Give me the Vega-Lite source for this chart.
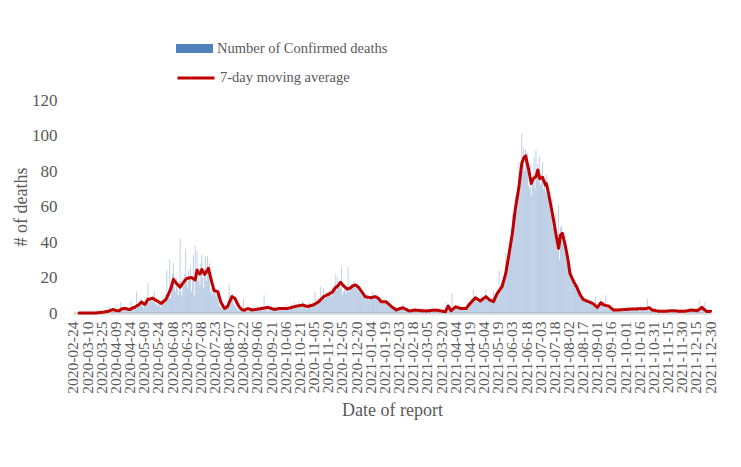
{
"$schema":"https://vega.github.io/schema/vega-lite/v6.json",
"width":638,"height":213,
"autosize":{"type":"none"},
"padding":{"left":73,"top":100,"right":30,"bottom":154},
"background":"white",
"config":{"view":{"stroke":null},"font":"Liberation Serif","axisY":{"labelOverlap":false,"tickCount":7},"axis":{"labelOverlap":false}},
"data":{"values":[
{"d":"2020-02-24","v":0},{"d":"2020-02-25","v":0},{"d":"2020-02-26","v":0},{"d":"2020-02-27","v":0},{"d":"2020-02-28","v":0},{"d":"2020-02-29","v":0},
{"d":"2020-03-01","v":0,"m":0},{"d":"2020-03-02","v":0,"m":0},{"d":"2020-03-03","v":0,"m":0},{"d":"2020-03-04","v":0,"m":0},{"d":"2020-03-05","v":0,"m":0},{"d":"2020-03-06","v":0,"m":0},{"d":"2020-03-07","v":0,"m":0},{"d":"2020-03-08","v":0,"m":0},{"d":"2020-03-09","v":0,"m":0},{"d":"2020-03-10","v":0,"m":0},{"d":"2020-03-11","v":0,"m":0},{"d":"2020-03-12","v":0,"m":0},{"d":"2020-03-13","v":0,"m":0},{"d":"2020-03-14","v":0,"m":0},{"d":"2020-03-15","v":0,"m":0},{"d":"2020-03-16","v":0,"m":0},{"d":"2020-03-17","v":0,"m":0},{"d":"2020-03-18","v":0,"m":0},{"d":"2020-03-19","v":0,"m":0},{"d":"2020-03-20","v":1,"m":0.1},{"d":"2020-03-21","v":0,"m":0.1},{"d":"2020-03-22","v":0,"m":0.1},{"d":"2020-03-23","v":1,"m":0.3},{"d":"2020-03-24","v":0,"m":0.3},{"d":"2020-03-25","v":1,"m":0.4},{"d":"2020-03-26","v":0,"m":0.4},{"d":"2020-03-27","v":0,"m":0.5},{"d":"2020-03-28","v":1,"m":0.6},{"d":"2020-03-29","v":2,"m":0.7},{"d":"2020-03-30","v":0,"m":0.8},{"d":"2020-03-31","v":1,"m":0.9},
{"d":"2020-04-01","v":1,"m":1.0},{"d":"2020-04-02","v":4,"m":1.2},{"d":"2020-04-03","v":0,"m":1.4},{"d":"2020-04-04","v":2,"m":1.6},{"d":"2020-04-05","v":3,"m":1.8},{"d":"2020-04-06","v":1,"m":2.0},{"d":"2020-04-07","v":2,"m":1.8},{"d":"2020-04-08","v":1,"m":1.6},{"d":"2020-04-09","v":2,"m":1.4},{"d":"2020-04-10","v":0,"m":1.3},{"d":"2020-04-11","v":1,"m":1.2},{"d":"2020-04-12","v":2,"m":1.2},{"d":"2020-04-13","v":1,"m":1.5},{"d":"2020-04-14","v":6,"m":1.9},{"d":"2020-04-15","v":2,"m":2.2},{"d":"2020-04-16","v":3,"m":2.4},{"d":"2020-04-17","v":2,"m":2.5},{"d":"2020-04-18","v":3,"m":2.6},{"d":"2020-04-19","v":2,"m":2.6},{"d":"2020-04-20","v":1,"m":2.4},{"d":"2020-04-21","v":3,"m":2.2},{"d":"2020-04-22","v":2,"m":2.1},{"d":"2020-04-23","v":1,"m":2.0},{"d":"2020-04-24","v":2,"m":2.0},{"d":"2020-04-25","v":7,"m":2.3},{"d":"2020-04-26","v":2,"m":2.6},{"d":"2020-04-27","v":3,"m":2.9},{"d":"2020-04-28","v":4,"m":3.1},{"d":"2020-04-29","v":3,"m":3.2},{"d":"2020-04-30","v":4,"m":3.6},
{"d":"2020-05-01","v":12,"m":4.0},{"d":"2020-05-02","v":3,"m":4.3},{"d":"2020-05-03","v":5,"m":4.5},{"d":"2020-05-04","v":6,"m":5.1},{"d":"2020-05-05","v":4,"m":5.7},{"d":"2020-05-06","v":8,"m":6.2},{"d":"2020-05-07","v":5,"m":5.8},{"d":"2020-05-08","v":3,"m":5.4},{"d":"2020-05-09","v":6,"m":5.0},{"d":"2020-05-10","v":4,"m":5.0},{"d":"2020-05-11","v":7,"m":5.9},{"d":"2020-05-12","v":9,"m":6.9},{"d":"2020-05-13","v":17,"m":7.7},{"d":"2020-05-14","v":6,"m":7.8},{"d":"2020-05-15","v":8,"m":7.9},{"d":"2020-05-16","v":7,"m":8.1},{"d":"2020-05-17","v":9,"m":8.2},{"d":"2020-05-18","v":10,"m":8.3},{"d":"2020-05-19","v":6,"m":8.0},{"d":"2020-05-20","v":12,"m":7.6},{"d":"2020-05-21","v":5,"m":7.2},{"d":"2020-05-22","v":6,"m":7.0},{"d":"2020-05-23","v":4,"m":6.8},{"d":"2020-05-24","v":5,"m":6.4},{"d":"2020-05-25","v":7,"m":6.0},{"d":"2020-05-26","v":3,"m":5.7},{"d":"2020-05-27","v":6,"m":5.4},{"d":"2020-05-28","v":5,"m":5.8},{"d":"2020-05-29","v":9,"m":6.3},{"d":"2020-05-30","v":6,"m":6.8},{"d":"2020-05-31","v":8,"m":7.2},
{"d":"2020-06-01","v":10,"m":7.7},{"d":"2020-06-02","v":24,"m":8.8},{"d":"2020-06-03","v":10,"m":9.9},{"d":"2020-06-04","v":14,"m":11.0},{"d":"2020-06-05","v":30,"m":12.2},{"d":"2020-06-06","v":8,"m":13.3},{"d":"2020-06-07","v":18,"m":15.2},{"d":"2020-06-08","v":22,"m":17.1},{"d":"2020-06-09","v":28,"m":19.0},{"d":"2020-06-10","v":15,"m":18.2},{"d":"2020-06-11","v":12,"m":17.5},{"d":"2020-06-12","v":20,"m":16.7},{"d":"2020-06-13","v":14,"m":16.2},{"d":"2020-06-14","v":10,"m":15.6},{"d":"2020-06-15","v":18,"m":15.0},{"d":"2020-06-16","v":42,"m":14.5},{"d":"2020-06-17","v":12,"m":15.3},{"d":"2020-06-18","v":9,"m":16.1},{"d":"2020-06-19","v":20,"m":16.9},{"d":"2020-06-20","v":16,"m":17.5},{"d":"2020-06-21","v":22,"m":18.2},{"d":"2020-06-22","v":36,"m":18.9},{"d":"2020-06-23","v":18,"m":19.5},{"d":"2020-06-24","v":14,"m":19.6},{"d":"2020-06-25","v":24,"m":19.7},{"d":"2020-06-26","v":21,"m":19.8},{"d":"2020-06-27","v":26,"m":19.9},{"d":"2020-06-28","v":12,"m":20.0},{"d":"2020-06-29","v":20,"m":19.7},{"d":"2020-06-30","v":33,"m":19.3},
{"d":"2020-07-01","v":10,"m":19.0},{"d":"2020-07-02","v":38,"m":18.6},{"d":"2020-07-03","v":22,"m":21.4},{"d":"2020-07-04","v":35,"m":24.2},{"d":"2020-07-05","v":18,"m":23.1},{"d":"2020-07-06","v":25,"m":22.6},{"d":"2020-07-07","v":16,"m":22.0},{"d":"2020-07-08","v":28,"m":23.2},{"d":"2020-07-09","v":33,"m":24.5},{"d":"2020-07-10","v":20,"m":23.6},{"d":"2020-07-11","v":14,"m":22.6},{"d":"2020-07-12","v":25,"m":21.7},{"d":"2020-07-13","v":32,"m":22.5},{"d":"2020-07-14","v":18,"m":23.3},{"d":"2020-07-15","v":32,"m":24.2},{"d":"2020-07-16","v":24,"m":25.2},{"d":"2020-07-17","v":28,"m":23.0},{"d":"2020-07-18","v":12,"m":20.8},{"d":"2020-07-19","v":14,"m":18.6},{"d":"2020-07-20","v":10,"m":16.6},{"d":"2020-07-21","v":13,"m":14.6},{"d":"2020-07-22","v":12,"m":12.6},{"d":"2020-07-23","v":14,"m":12.5},{"d":"2020-07-24","v":9,"m":12.3},{"d":"2020-07-25","v":12,"m":12.2},{"d":"2020-07-26","v":11,"m":12.0},{"d":"2020-07-27","v":6,"m":10.1},{"d":"2020-07-28","v":4,"m":8.3},{"d":"2020-07-29","v":3,"m":6.4},{"d":"2020-07-30","v":5,"m":5.4},{"d":"2020-07-31","v":2,"m":4.5},
{"d":"2020-08-01","v":3,"m":3.5},{"d":"2020-08-02","v":2,"m":2.6},{"d":"2020-08-03","v":4,"m":2.9},{"d":"2020-08-04","v":3,"m":3.2},{"d":"2020-08-05","v":5,"m":3.5},{"d":"2020-08-06","v":8,"m":4.6},{"d":"2020-08-07","v":16,"m":5.8},{"d":"2020-08-08","v":10,"m":6.9},{"d":"2020-08-09","v":9,"m":8.1},{"d":"2020-08-10","v":7,"m":9.2},{"d":"2020-08-11","v":11,"m":8.9},{"d":"2020-08-12","v":5,"m":8.6},{"d":"2020-08-13","v":4,"m":8.3},{"d":"2020-08-14","v":6,"m":7.2},{"d":"2020-08-15","v":2,"m":6.1},{"d":"2020-08-16","v":3,"m":5.1},{"d":"2020-08-17","v":1,"m":4.0},{"d":"2020-08-18","v":2,"m":3.3},{"d":"2020-08-19","v":1,"m":2.7},{"d":"2020-08-20","v":2,"m":2.0},{"d":"2020-08-21","v":1,"m":1.8},{"d":"2020-08-22","v":8,"m":1.7},{"d":"2020-08-23","v":2,"m":1.5},{"d":"2020-08-24","v":3,"m":1.8},{"d":"2020-08-25","v":1,"m":2.1},{"d":"2020-08-26","v":2,"m":2.3},{"d":"2020-08-27","v":1,"m":2.5},{"d":"2020-08-28","v":3,"m":2.3},{"d":"2020-08-29","v":2,"m":2.1},{"d":"2020-08-30","v":1,"m":1.9},{"d":"2020-08-31","v":3,"m":1.7},
{"d":"2020-09-01","v":2,"m":1.8},{"d":"2020-09-02","v":2,"m":1.9},{"d":"2020-09-03","v":3,"m":1.9},{"d":"2020-09-04","v":1,"m":2.0},{"d":"2020-09-05","v":2,"m":2.1},{"d":"2020-09-06","v":4,"m":2.1},{"d":"2020-09-07","v":1,"m":2.2},{"d":"2020-09-08","v":3,"m":2.3},{"d":"2020-09-09","v":2,"m":2.4},{"d":"2020-09-10","v":4,"m":2.5},{"d":"2020-09-11","v":3,"m":2.6},{"d":"2020-09-12","v":2,"m":2.7},{"d":"2020-09-13","v":10,"m":2.8},{"d":"2020-09-14","v":3,"m":2.9},{"d":"2020-09-15","v":2,"m":3.0},{"d":"2020-09-16","v":4,"m":3.1},{"d":"2020-09-17","v":1,"m":3.2},{"d":"2020-09-18","v":3,"m":3.0},{"d":"2020-09-19","v":2,"m":2.8},{"d":"2020-09-20","v":1,"m":2.7},{"d":"2020-09-21","v":3,"m":2.5},{"d":"2020-09-22","v":2,"m":2.3},{"d":"2020-09-23","v":1,"m":2.2},{"d":"2020-09-24","v":2,"m":2.0},{"d":"2020-09-25","v":3,"m":2.1},{"d":"2020-09-26","v":2,"m":2.2},{"d":"2020-09-27","v":1,"m":2.3},{"d":"2020-09-28","v":4,"m":2.4},{"d":"2020-09-29","v":2,"m":2.5},{"d":"2020-09-30","v":3,"m":2.5},
{"d":"2020-10-01","v":2,"m":2.6},{"d":"2020-10-02","v":3,"m":2.6},{"d":"2020-10-03","v":2,"m":2.6},{"d":"2020-10-04","v":4,"m":2.6},{"d":"2020-10-05","v":3,"m":2.6},{"d":"2020-10-06","v":2,"m":2.6},{"d":"2020-10-07","v":5,"m":2.6},{"d":"2020-10-08","v":3,"m":2.6},{"d":"2020-10-09","v":2,"m":2.7},{"d":"2020-10-10","v":4,"m":2.9},{"d":"2020-10-11","v":3,"m":3.0},{"d":"2020-10-12","v":5,"m":3.1},{"d":"2020-10-13","v":3,"m":3.3},{"d":"2020-10-14","v":4,"m":3.4},{"d":"2020-10-15","v":6,"m":3.6},{"d":"2020-10-16","v":3,"m":3.7},{"d":"2020-10-17","v":5,"m":3.8},{"d":"2020-10-18","v":4,"m":3.9},{"d":"2020-10-19","v":3,"m":4.0},{"d":"2020-10-20","v":6,"m":4.1},{"d":"2020-10-21","v":4,"m":4.2},{"d":"2020-10-22","v":3,"m":4.3},{"d":"2020-10-23","v":5,"m":4.4},{"d":"2020-10-24","v":7,"m":4.5},{"d":"2020-10-25","v":4,"m":4.3},{"d":"2020-10-26","v":3,"m":4.1},{"d":"2020-10-27","v":5,"m":3.9},{"d":"2020-10-28","v":2,"m":3.8},{"d":"2020-10-29","v":4,"m":3.6},{"d":"2020-10-30","v":3,"m":3.8},{"d":"2020-10-31","v":6,"m":3.9},
{"d":"2020-11-01","v":4,"m":4.1},{"d":"2020-11-02","v":3,"m":4.2},{"d":"2020-11-03","v":6,"m":4.4},{"d":"2020-11-04","v":5,"m":4.5},{"d":"2020-11-05","v":4,"m":4.8},{"d":"2020-11-06","v":12,"m":5.1},{"d":"2020-11-07","v":5,"m":5.4},{"d":"2020-11-08","v":6,"m":5.8},{"d":"2020-11-09","v":8,"m":6.1},{"d":"2020-11-10","v":7,"m":6.4},{"d":"2020-11-11","v":6,"m":7.0},{"d":"2020-11-12","v":15,"m":7.5},{"d":"2020-11-13","v":9,"m":8.1},{"d":"2020-11-14","v":7,"m":8.6},{"d":"2020-11-15","v":14,"m":9.2},{"d":"2020-11-16","v":10,"m":9.5},{"d":"2020-11-17","v":8,"m":9.7},{"d":"2020-11-18","v":12,"m":10.0},{"d":"2020-11-19","v":9,"m":10.2},{"d":"2020-11-20","v":11,"m":10.5},{"d":"2020-11-21","v":13,"m":10.8},{"d":"2020-11-22","v":10,"m":11.1},{"d":"2020-11-23","v":12,"m":11.3},{"d":"2020-11-24","v":9,"m":11.6},{"d":"2020-11-25","v":14,"m":12.4},{"d":"2020-11-26","v":12,"m":13.1},{"d":"2020-11-27","v":16,"m":13.9},{"d":"2020-11-28","v":22,"m":14.4},{"d":"2020-11-29","v":13,"m":14.8},{"d":"2020-11-30","v":20,"m":15.3},
{"d":"2020-12-01","v":15,"m":15.8},{"d":"2020-12-02","v":18,"m":16.5},{"d":"2020-12-03","v":14,"m":17.3},{"d":"2020-12-04","v":26,"m":16.7},{"d":"2020-12-05","v":10,"m":16.0},{"d":"2020-12-06","v":12,"m":15.4},{"d":"2020-12-07","v":16,"m":14.9},{"d":"2020-12-08","v":13,"m":14.5},{"d":"2020-12-09","v":11,"m":14.0},{"d":"2020-12-10","v":15,"m":13.5},{"d":"2020-12-11","v":26,"m":13.6},{"d":"2020-12-12","v":12,"m":13.8},{"d":"2020-12-13","v":14,"m":13.9},{"d":"2020-12-14","v":13,"m":14.4},{"d":"2020-12-15","v":16,"m":14.9},{"d":"2020-12-16","v":15,"m":15.4},{"d":"2020-12-17","v":18,"m":15.5},{"d":"2020-12-18","v":17,"m":15.7},{"d":"2020-12-19","v":14,"m":15.8},{"d":"2020-12-20","v":16,"m":15.4},{"d":"2020-12-21","v":16,"m":14.9},{"d":"2020-12-22","v":12,"m":14.5},{"d":"2020-12-23","v":14,"m":13.8},{"d":"2020-12-24","v":13,"m":13.0},{"d":"2020-12-25","v":10,"m":12.3},{"d":"2020-12-26","v":11,"m":11.6},{"d":"2020-12-27","v":9,"m":10.8},{"d":"2020-12-28","v":10,"m":10.0},{"d":"2020-12-29","v":8,"m":9.2},{"d":"2020-12-30","v":9,"m":9.1},{"d":"2020-12-31","v":8,"m":9.0},
{"d":"2021-01-01","v":10,"m":8.9},{"d":"2021-01-02","v":7,"m":8.8},{"d":"2021-01-03","v":9,"m":8.7},{"d":"2021-01-04","v":8,"m":8.6},{"d":"2021-01-05","v":9,"m":8.7},{"d":"2021-01-06","v":12,"m":8.8},{"d":"2021-01-07","v":8,"m":9.0},{"d":"2021-01-08","v":10,"m":9.1},{"d":"2021-01-09","v":9,"m":9.2},{"d":"2021-01-10","v":8,"m":8.9},{"d":"2021-01-11","v":10,"m":8.6},{"d":"2021-01-12","v":7,"m":8.3},{"d":"2021-01-13","v":6,"m":7.7},{"d":"2021-01-14","v":8,"m":7.0},{"d":"2021-01-15","v":5,"m":6.4},{"d":"2021-01-16","v":7,"m":6.4},{"d":"2021-01-17","v":6,"m":6.4},{"d":"2021-01-18","v":7,"m":6.4},{"d":"2021-01-19","v":6,"m":6.4},{"d":"2021-01-20","v":5,"m":6.4},{"d":"2021-01-21","v":6,"m":5.9},{"d":"2021-01-22","v":4,"m":5.5},{"d":"2021-01-23","v":6,"m":5.0},{"d":"2021-01-24","v":4,"m":4.5},{"d":"2021-01-25","v":3,"m":4.1},{"d":"2021-01-26","v":4,"m":3.6},{"d":"2021-01-27","v":3,"m":3.2},{"d":"2021-01-28","v":2,"m":2.8},{"d":"2021-01-29","v":3,"m":2.5},{"d":"2021-01-30","v":1,"m":2.1},{"d":"2021-01-31","v":2,"m":1.7},
{"d":"2021-02-01","v":1,"m":1.9},{"d":"2021-02-02","v":3,"m":2.1},{"d":"2021-02-03","v":2,"m":2.3},{"d":"2021-02-04","v":4,"m":2.5},{"d":"2021-02-05","v":2,"m":2.6},{"d":"2021-02-06","v":3,"m":2.8},{"d":"2021-02-07","v":5,"m":3.0},{"d":"2021-02-08","v":2,"m":2.7},{"d":"2021-02-09","v":3,"m":2.4},{"d":"2021-02-10","v":1,"m":2.1},{"d":"2021-02-11","v":2,"m":1.9},{"d":"2021-02-12","v":1,"m":1.6},{"d":"2021-02-13","v":2,"m":1.3},{"d":"2021-02-14","v":0,"m":1.1},{"d":"2021-02-15","v":1,"m":1.2},{"d":"2021-02-16","v":2,"m":1.3},{"d":"2021-02-17","v":1,"m":1.4},{"d":"2021-02-18","v":2,"m":1.5},{"d":"2021-02-19","v":1,"m":1.6},{"d":"2021-02-20","v":3,"m":1.7},{"d":"2021-02-21","v":1,"m":1.6},{"d":"2021-02-22","v":2,"m":1.6},{"d":"2021-02-23","v":1,"m":1.5},{"d":"2021-02-24","v":2,"m":1.5},{"d":"2021-02-25","v":1,"m":1.4},{"d":"2021-02-26","v":2,"m":1.4},{"d":"2021-02-27","v":1,"m":1.3},{"d":"2021-02-28","v":1,"m":1.3},
{"d":"2021-03-01","v":2,"m":1.2},{"d":"2021-03-02","v":0,"m":1.2},{"d":"2021-03-03","v":1,"m":1.1},{"d":"2021-03-04","v":2,"m":1.2},{"d":"2021-03-05","v":1,"m":1.2},{"d":"2021-03-06","v":1,"m":1.3},{"d":"2021-03-07","v":2,"m":1.3},{"d":"2021-03-08","v":1,"m":1.4},{"d":"2021-03-09","v":2,"m":1.4},{"d":"2021-03-10","v":1,"m":1.5},{"d":"2021-03-11","v":3,"m":1.5},{"d":"2021-03-12","v":1,"m":1.6},{"d":"2021-03-13","v":2,"m":1.6},{"d":"2021-03-14","v":2,"m":1.7},{"d":"2021-03-15","v":1,"m":1.6},{"d":"2021-03-16","v":2,"m":1.5},{"d":"2021-03-17","v":1,"m":1.4},{"d":"2021-03-18","v":1,"m":1.3},{"d":"2021-03-19","v":2,"m":1.2},{"d":"2021-03-20","v":0,"m":1.1},{"d":"2021-03-21","v":1,"m":1.0},{"d":"2021-03-22","v":1,"m":0.9},{"d":"2021-03-23","v":0,"m":0.8},{"d":"2021-03-24","v":1,"m":0.7},{"d":"2021-03-25","v":6,"m":1.8},{"d":"2021-03-26","v":4,"m":2.8},{"d":"2021-03-27","v":5,"m":3.9},{"d":"2021-03-28","v":2,"m":3.0},{"d":"2021-03-29","v":1,"m":2.2},{"d":"2021-03-30","v":2,"m":1.3},{"d":"2021-03-31","v":11,"m":1.7},
{"d":"2021-04-01","v":2,"m":2.2},{"d":"2021-04-02","v":3,"m":2.6},{"d":"2021-04-03","v":4,"m":3.1},{"d":"2021-04-04","v":3,"m":3.5},{"d":"2021-04-05","v":2,"m":3.3},{"d":"2021-04-06","v":4,"m":3.1},{"d":"2021-04-07","v":3,"m":3.0},{"d":"2021-04-08","v":2,"m":2.8},{"d":"2021-04-09","v":3,"m":2.6},{"d":"2021-04-10","v":2,"m":2.6},{"d":"2021-04-11","v":4,"m":2.6},{"d":"2021-04-12","v":2,"m":2.6},{"d":"2021-04-13","v":3,"m":2.6},{"d":"2021-04-14","v":2,"m":2.6},{"d":"2021-04-15","v":3,"m":2.6},{"d":"2021-04-16","v":5,"m":3.2},{"d":"2021-04-17","v":6,"m":3.9},{"d":"2021-04-18","v":4,"m":4.5},{"d":"2021-04-19","v":7,"m":5.2},{"d":"2021-04-20","v":6,"m":5.8},{"d":"2021-04-21","v":8,"m":6.4},{"d":"2021-04-22","v":7,"m":7.0},{"d":"2021-04-23","v":13,"m":7.5},{"d":"2021-04-24","v":9,"m":8.1},{"d":"2021-04-25","v":8,"m":8.6},{"d":"2021-04-26","v":10,"m":8.2},{"d":"2021-04-27","v":6,"m":7.9},{"d":"2021-04-28","v":8,"m":7.5},{"d":"2021-04-29","v":7,"m":7.2},{"d":"2021-04-30","v":6,"m":6.8},
{"d":"2021-05-01","v":10,"m":7.2},{"d":"2021-05-02","v":7,"m":7.6},{"d":"2021-05-03","v":8,"m":8.0},{"d":"2021-05-04","v":9,"m":8.4},{"d":"2021-05-05","v":8,"m":8.8},{"d":"2021-05-06","v":13,"m":9.2},{"d":"2021-05-07","v":9,"m":8.7},{"d":"2021-05-08","v":7,"m":8.3},{"d":"2021-05-09","v":8,"m":7.8},{"d":"2021-05-10","v":6,"m":7.3},{"d":"2021-05-11","v":7,"m":7.1},{"d":"2021-05-12","v":6,"m":6.9},{"d":"2021-05-13","v":8,"m":6.6},{"d":"2021-05-14","v":12,"m":6.4},{"d":"2021-05-15","v":9,"m":7.6},{"d":"2021-05-16","v":11,"m":8.8},{"d":"2021-05-17","v":10,"m":9.9},{"d":"2021-05-18","v":13,"m":11.1},{"d":"2021-05-19","v":12,"m":11.8},{"d":"2021-05-20","v":24,"m":12.6},{"d":"2021-05-21","v":14,"m":13.3},{"d":"2021-05-22","v":13,"m":14.1},{"d":"2021-05-23","v":16,"m":14.8},{"d":"2021-05-24","v":18,"m":16.7},{"d":"2021-05-25","v":20,"m":18.5},{"d":"2021-05-26","v":19,"m":20.4},{"d":"2021-05-27","v":34,"m":22.3},{"d":"2021-05-28","v":28,"m":25.4},{"d":"2021-05-29","v":30,"m":28.6},{"d":"2021-05-30","v":36,"m":31.7},{"d":"2021-05-31","v":38,"m":35.0},
{"d":"2021-06-01","v":40,"m":38.3},{"d":"2021-06-02","v":45,"m":41.6},{"d":"2021-06-03","v":56,"m":44.9},{"d":"2021-06-04","v":50,"m":49.3},{"d":"2021-06-05","v":55,"m":53.6},{"d":"2021-06-06","v":66,"m":58.0},{"d":"2021-06-07","v":60,"m":61.3},{"d":"2021-06-08","v":65,"m":64.6},{"d":"2021-06-09","v":68,"m":67.9},{"d":"2021-06-10","v":85,"m":71.2},{"d":"2021-06-11","v":78,"m":75.6},{"d":"2021-06-12","v":82,"m":79.9},{"d":"2021-06-13","v":101,"m":84.3},{"d":"2021-06-14","v":88,"m":85.8},{"d":"2021-06-15","v":93,"m":87.2},{"d":"2021-06-16","v":80,"m":87.9},{"d":"2021-06-17","v":92,"m":88.5},{"d":"2021-06-18","v":86,"m":86.2},{"d":"2021-06-19","v":90,"m":83.8},{"d":"2021-06-20","v":72,"m":81.5},{"d":"2021-06-21","v":70,"m":78.7},{"d":"2021-06-22","v":84,"m":75.8},{"d":"2021-06-23","v":66,"m":73.0},{"d":"2021-06-24","v":74,"m":74.3},{"d":"2021-06-25","v":78,"m":75.6},{"d":"2021-06-26","v":88,"m":76.0},{"d":"2021-06-27","v":70,"m":76.4},{"d":"2021-06-28","v":92,"m":76.8},{"d":"2021-06-29","v":80,"m":78.7},{"d":"2021-06-30","v":84,"m":80.6},
{"d":"2021-07-01","v":74,"m":78.1},{"d":"2021-07-02","v":88,"m":75.6},{"d":"2021-07-03","v":72,"m":75.9},{"d":"2021-07-04","v":78,"m":76.2},{"d":"2021-07-05","v":85,"m":76.5},{"d":"2021-07-06","v":70,"m":75.0},{"d":"2021-07-07","v":74,"m":73.6},{"d":"2021-07-08","v":68,"m":72.1},{"d":"2021-07-09","v":78,"m":72.9},{"d":"2021-07-10","v":66,"m":70.6},{"d":"2021-07-11","v":71,"m":68.3},{"d":"2021-07-12","v":60,"m":65.5},{"d":"2021-07-13","v":62,"m":62.7},{"d":"2021-07-14","v":55,"m":59.9},{"d":"2021-07-15","v":65,"m":57.1},{"d":"2021-07-16","v":48,"m":54.3},{"d":"2021-07-17","v":50,"m":51.2},{"d":"2021-07-18","v":44,"m":48.0},{"d":"2021-07-19","v":56,"m":44.9},{"d":"2021-07-20","v":38,"m":42.1},{"d":"2021-07-21","v":35,"m":39.2},{"d":"2021-07-22","v":61,"m":36.4},{"d":"2021-07-23","v":30,"m":40.1},{"d":"2021-07-24","v":48,"m":43.9},{"d":"2021-07-25","v":49,"m":44.4},{"d":"2021-07-26","v":44,"m":44.9},{"d":"2021-07-27","v":40,"m":42.7},{"d":"2021-07-28","v":42,"m":40.5},{"d":"2021-07-29","v":34,"m":38.3},{"d":"2021-07-30","v":38,"m":35.5},{"d":"2021-07-31","v":28,"m":32.7},
{"d":"2021-08-01","v":30,"m":29.9},{"d":"2021-08-02","v":24,"m":26.1},{"d":"2021-08-03","v":22,"m":22.3},{"d":"2021-08-04","v":20,"m":21.1},{"d":"2021-08-05","v":23,"m":19.9},{"d":"2021-08-06","v":18,"m":18.8},{"d":"2021-08-07","v":16,"m":17.6},{"d":"2021-08-08","v":19,"m":16.7},{"d":"2021-08-09","v":14,"m":15.7},{"d":"2021-08-10","v":15,"m":14.8},{"d":"2021-08-11","v":13,"m":13.6},{"d":"2021-08-12","v":12,"m":12.4},{"d":"2021-08-13","v":11,"m":11.3},{"d":"2021-08-14","v":10,"m":10.1},{"d":"2021-08-15","v":9,"m":9.3},{"d":"2021-08-16","v":8,"m":8.5},{"d":"2021-08-17","v":7,"m":7.7},{"d":"2021-08-18","v":9,"m":7.4},{"d":"2021-08-19","v":6,"m":7.2},{"d":"2021-08-20","v":7,"m":6.9},{"d":"2021-08-21","v":8,"m":6.7},{"d":"2021-08-22","v":5,"m":6.5},{"d":"2021-08-23","v":7,"m":6.3},{"d":"2021-08-24","v":6,"m":6.1},{"d":"2021-08-25","v":5,"m":5.8},{"d":"2021-08-26","v":7,"m":5.6},{"d":"2021-08-27","v":4,"m":5.4},{"d":"2021-08-28","v":6,"m":5.0},{"d":"2021-08-29","v":3,"m":4.5},{"d":"2021-08-30","v":9,"m":4.1},{"d":"2021-08-31","v":3,"m":3.6},
{"d":"2021-09-01","v":3,"m":3.2},{"d":"2021-09-02","v":5,"m":3.9},{"d":"2021-09-03","v":6,"m":4.5},{"d":"2021-09-04","v":8,"m":5.2},{"d":"2021-09-05","v":5,"m":5.8},{"d":"2021-09-06","v":6,"m":5.4},{"d":"2021-09-07","v":4,"m":4.9},{"d":"2021-09-08","v":3,"m":4.5},{"d":"2021-09-09","v":5,"m":4.4},{"d":"2021-09-10","v":10,"m":4.3},{"d":"2021-09-11","v":3,"m":4.1},{"d":"2021-09-12","v":4,"m":4.0},{"d":"2021-09-13","v":2,"m":3.9},{"d":"2021-09-14","v":3,"m":3.5},{"d":"2021-09-15","v":2,"m":3.0},{"d":"2021-09-16","v":1,"m":2.6},{"d":"2021-09-17","v":2,"m":2.1},{"d":"2021-09-18","v":1,"m":1.7},{"d":"2021-09-19","v":2,"m":1.7},{"d":"2021-09-20","v":3,"m":1.7},{"d":"2021-09-21","v":1,"m":1.7},{"d":"2021-09-22","v":2,"m":1.7},{"d":"2021-09-23","v":1,"m":1.7},{"d":"2021-09-24","v":2,"m":1.7},{"d":"2021-09-25","v":3,"m":1.8},{"d":"2021-09-26","v":1,"m":1.8},{"d":"2021-09-27","v":2,"m":1.9},{"d":"2021-09-28","v":3,"m":1.9},{"d":"2021-09-29","v":1,"m":2.0},{"d":"2021-09-30","v":2,"m":2.0},
{"d":"2021-10-01","v":3,"m":2.0},{"d":"2021-10-02","v":1,"m":2.0},{"d":"2021-10-03","v":2,"m":2.1},{"d":"2021-10-04","v":4,"m":2.1},{"d":"2021-10-05","v":2,"m":2.1},{"d":"2021-10-06","v":1,"m":2.1},{"d":"2021-10-07","v":3,"m":2.2},{"d":"2021-10-08","v":2,"m":2.2},{"d":"2021-10-09","v":4,"m":2.2},{"d":"2021-10-10","v":1,"m":2.3},{"d":"2021-10-11","v":3,"m":2.3},{"d":"2021-10-12","v":2,"m":2.3},{"d":"2021-10-13","v":4,"m":2.3},{"d":"2021-10-14","v":2,"m":2.4},{"d":"2021-10-15","v":3,"m":2.4},{"d":"2021-10-16","v":1,"m":2.4},{"d":"2021-10-17","v":4,"m":2.4},{"d":"2021-10-18","v":2,"m":2.4},{"d":"2021-10-19","v":3,"m":2.4},{"d":"2021-10-20","v":2,"m":2.4},{"d":"2021-10-21","v":1,"m":2.4},{"d":"2021-10-22","v":3,"m":2.4},{"d":"2021-10-23","v":2,"m":2.6},{"d":"2021-10-24","v":8,"m":2.7},{"d":"2021-10-25","v":3,"m":2.9},{"d":"2021-10-26","v":2,"m":3.0},{"d":"2021-10-27","v":1,"m":2.6},{"d":"2021-10-28","v":2,"m":2.1},{"d":"2021-10-29","v":1,"m":1.7},{"d":"2021-10-30","v":2,"m":1.6},{"d":"2021-10-31","v":1,"m":1.5},
{"d":"2021-11-01","v":1,"m":1.4},{"d":"2021-11-02","v":2,"m":1.3},{"d":"2021-11-03","v":0,"m":1.2},{"d":"2021-11-04","v":1,"m":1.1},{"d":"2021-11-05","v":1,"m":1.0},{"d":"2021-11-06","v":2,"m":1.0},{"d":"2021-11-07","v":0,"m":1.0},{"d":"2021-11-08","v":1,"m":1.0},{"d":"2021-11-09","v":2,"m":1.0},{"d":"2021-11-10","v":1,"m":1.0},{"d":"2021-11-11","v":0,"m":1.0},{"d":"2021-11-12","v":1,"m":1.0},{"d":"2021-11-13","v":2,"m":1.0},{"d":"2021-11-14","v":1,"m":1.1},{"d":"2021-11-15","v":1,"m":1.1},{"d":"2021-11-16","v":2,"m":1.1},{"d":"2021-11-17","v":1,"m":1.2},{"d":"2021-11-18","v":0,"m":1.2},{"d":"2021-11-19","v":2,"m":1.2},{"d":"2021-11-20","v":1,"m":1.3},{"d":"2021-11-21","v":2,"m":1.3},{"d":"2021-11-22","v":1,"m":1.2},{"d":"2021-11-23","v":1,"m":1.2},{"d":"2021-11-24","v":0,"m":1.1},{"d":"2021-11-25","v":2,"m":1.1},{"d":"2021-11-26","v":1,"m":1.0},{"d":"2021-11-27","v":1,"m":1.0},{"d":"2021-11-28","v":0,"m":1.0},{"d":"2021-11-29","v":1,"m":1.0},{"d":"2021-11-30","v":2,"m":1.0},
{"d":"2021-12-01","v":1,"m":1.0},{"d":"2021-12-02","v":0,"m":1.0},{"d":"2021-12-03","v":1,"m":1.0},{"d":"2021-12-04","v":2,"m":1.1},{"d":"2021-12-05","v":1,"m":1.2},{"d":"2021-12-06","v":2,"m":1.3},{"d":"2021-12-07","v":1,"m":1.4},{"d":"2021-12-08","v":3,"m":1.5},{"d":"2021-12-09","v":2,"m":1.6},{"d":"2021-12-10","v":1,"m":1.7},{"d":"2021-12-11","v":2,"m":1.6},{"d":"2021-12-12","v":1,"m":1.6},{"d":"2021-12-13","v":2,"m":1.5},{"d":"2021-12-14","v":1,"m":1.4},{"d":"2021-12-15","v":2,"m":1.4},{"d":"2021-12-16","v":1,"m":1.3},{"d":"2021-12-17","v":3,"m":1.7},{"d":"2021-12-18","v":7,"m":2.1},{"d":"2021-12-19","v":2,"m":2.4},{"d":"2021-12-20","v":3,"m":2.8},{"d":"2021-12-21","v":4,"m":3.2},{"d":"2021-12-22","v":2,"m":2.6},{"d":"2021-12-23","v":1,"m":2.0},{"d":"2021-12-24","v":6,"m":1.6},{"d":"2021-12-25","v":1,"m":1.2},{"d":"2021-12-26","v":0,"m":0.9},{"d":"2021-12-27","v":1,"m":0.8},{"d":"2021-12-28","v":0,"m":0.8},{"d":"2021-12-29","v":1,"m":0.9},{"d":"2021-12-30","v":1,"m":1.0}
]},
"layer":[
{"mark":{"type":"bar","opacity":0.42},
 "encoding":{
  "x":{"field":"d","type":"ordinal","sort":null,"scale":{"paddingInner":0.1,"paddingOuter":0},
   "axis":{"title":"Date of report","values":["2020-02-24","2020-03-10","2020-03-25","2020-04-09","2020-04-24","2020-05-09","2020-05-24","2020-06-08","2020-06-23","2020-07-08","2020-07-23","2020-08-07","2020-08-22","2020-09-06","2020-09-21","2020-10-06","2020-10-21","2020-11-05","2020-11-20","2020-12-05","2020-12-20","2021-01-04","2021-01-19","2021-02-03","2021-02-18","2021-03-05","2021-03-20","2021-04-04","2021-04-19","2021-05-04","2021-05-19","2021-06-03","2021-06-18","2021-07-03","2021-07-18","2021-08-02","2021-08-17","2021-09-01","2021-09-16","2021-10-01","2021-10-16","2021-10-31","2021-11-15","2021-11-30","2021-12-15","2021-12-30"],
    "labelAngle":-90,"labelPadding":8,"ticks":false,"grid":false,"domainColor":"#d9d9d9","domainWidth":2.5,
    "labelFont":"Liberation Serif","labelFontSize":15.5,"labelColor":"#595959","labelOverlap":false,
    "titleFont":"Liberation Serif","titleFontSize":18,"titleFontWeight":"normal","titleColor":"#595959","titlePadding":8}},
  "y":{"field":"v","type":"quantitative","scale":{"domain":[0,120],"nice":false},
   "axis":{"title":"# of deaths","values":[0,20,40,60,80,100,120],"labelOverlap":false,"grid":false,"domain":false,"ticks":false,"labelPadding":16,
    "labelFont":"Liberation Serif","labelFontSize":17,"labelColor":"#595959",
    "titleFont":"Liberation Serif","titleFontSize":18,"titleFontWeight":"normal","titleColor":"#595959","titlePadding":1}},
  "fill":{"datum":"Number of Confirmed deaths","scale":{"range":["#4f81bd"]},
   "legend":{"orient":"none","legendX":103,"legendY":-70,"title":null,"symbolType":"M-1,-0.243H1V0.243H-1Z","symbolSize":1369,"symbolOpacity":1,"symbolStrokeWidth":0,
    "labelFont":"Liberation Serif","labelFontSize":14.5,"labelColor":"#595959","labelOffset":4,"labelLimit":400,"padding":0}}
 }},
{"mark":{"type":"line","strokeWidth":3,"strokeJoin":"round","strokeCap":"round"},
 "encoding":{
  "x":{"field":"d","type":"ordinal","sort":null},
  "y":{"field":"m","type":"quantitative","title":"# of deaths",
   "axis":{"title":"# of deaths","values":[0,20,40,60,80,100,120],"labelOverlap":false,"grid":false,"domain":false,"ticks":false,"labelPadding":16,
    "labelFont":"Liberation Serif","labelFontSize":17,"labelColor":"#595959",
    "titleFont":"Liberation Serif","titleFontSize":18,"titleFontWeight":"normal","titleColor":"#595959","titlePadding":1}},
  "stroke":{"datum":"7-day moving average","scale":{"range":["#c00000"]},
   "legend":{"orient":"none","legendX":103,"legendY":-42,"title":null,"symbolType":"stroke","symbolSize":1369,"symbolStrokeWidth":3,
    "labelFont":"Liberation Serif","labelFontSize":14.5,"labelColor":"#595959","labelOffset":4,"labelLimit":400,"padding":0}}
 }}
]
}
